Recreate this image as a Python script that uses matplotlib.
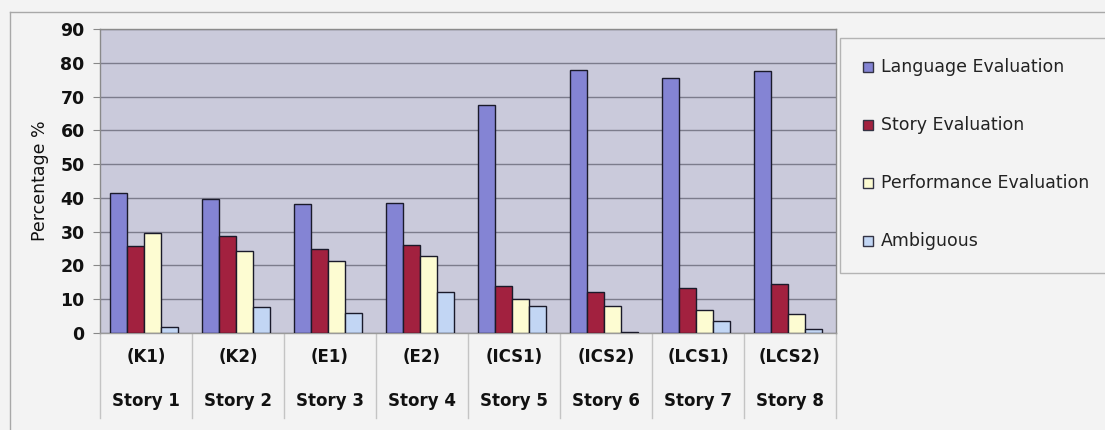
import matplotlib
matplotlib.use("Agg")
import matplotlib.pyplot as plt
import numpy as np
from matplotlib.lines import Line2D
from matplotlib.patches import Rectangle
from matplotlib.transforms import blended_transform_factory

# evaluation breakdown per story (percent of utterances)
codes = ["(K1)", "(K2)", "(E1)", "(E2)", "(ICS1)", "(ICS2)", "(LCS1)", "(LCS2)"]
stories = ["Story 1", "Story 2", "Story 3", "Story 4",
           "Story 5", "Story 6", "Story 7", "Story 8"]
series = ["Language Evaluation", "Story Evaluation",
          "Performance Evaluation", "Ambiguous"]
language = [41.4, 39.6, 38.2, 38.6, 67.5, 77.9, 75.6, 77.6]
story = [25.8, 28.8, 24.8, 26.1, 14.0, 12.1, 13.3, 14.6]
performance = [29.6, 24.4, 21.2, 22.9, 10.2, 7.9, 6.9, 5.6]
ambiguous = [1.8, 7.7, 5.9, 12.1, 8.1, 0.2, 3.5, 1.2]
colors = ["#8484d4", "#a2213f", "#fdfcd2", "#c2d6f4"]

W, H = 1105, 430
fig = plt.figure(figsize=(W / 100, H / 100), dpi=100, facecolor="#f3f3f3")
ax = fig.add_axes([100 / W, 1 - 333 / H, 736 / W, 304 / H])
ax.set_facecolor("#cacadb")

x = np.arange(len(codes))
bw = 0.185
for k, (vals, c) in enumerate(zip([language, story, performance, ambiguous], colors)):
    ax.bar(x + (k - 1.5) * bw - 0.02, vals, width=bw, color=c,
           edgecolor="#1a1a2a", linewidth=1.0, zorder=3)

ax.set_xlim(-0.5, len(codes) - 0.5)
ax.set_ylim(0, 90)
ax.set_yticks(range(0, 91, 10))
ax.set_yticklabels([str(v) for v in range(0, 91, 10)], fontsize=12.5,
                   fontweight="bold", color="#111111")
ax.tick_params(axis="y", length=5, color="#888888", pad=6)
ax.set_xticks([])
ax.grid(axis="y", color="#7c7c8c", linewidth=1.0, zorder=1)
for s in ax.spines.values():
    s.set_color("#8a8a8a")
    s.set_linewidth(1.0)
ax.spines["bottom"].set_color("#9a9a9a")
ax.set_ylabel("Percentage %", fontsize=12.5, color="#111111", labelpad=8)

# category table beneath the bars
tr = blended_transform_factory(ax.transData, ax.transAxes)
for b in np.arange(len(codes) + 1) - 0.5:
    ax.add_line(Line2D([b, b], [0, -0.28], transform=tr, color="#c4c4c4",
                       linewidth=1.0, clip_on=False))
for i, (c, s) in enumerate(zip(codes, stories)):
    ax.text(i, -0.08, c, transform=tr, ha="center", va="center",
            fontsize=12, fontweight="bold", color="#111111")
    ax.text(i, -0.225, s, transform=tr, ha="center", va="center",
            fontsize=12, fontweight="bold", color="#111111")

# outer chart frame (top and left edges)
fig.add_artist(Line2D([10 / W, 10 / W], [0, 1 - 12 / H], color="#a8a8a8", linewidth=1.0))
fig.add_artist(Line2D([10 / W, 1], [1 - 12 / H, 1 - 12 / H], color="#a8a8a8", linewidth=1.0))

# legend box with entries
fig.add_artist(Rectangle((840 / W, 1 - 273 / H), (W - 838) / W, 235 / H,
                         facecolor="#f3f3f3", edgecolor="#b4b4b4", linewidth=1.0))
for k, (name, c) in enumerate(zip(series, colors)):
    yc = 1 - (67 + 58 * k) / H
    fig.add_artist(Rectangle((863 / W, yc - 5 / H), 10 / W, 10 / H,
                             facecolor=c, edgecolor="#333344", linewidth=1.0))
    fig.text(881 / W, yc, name, ha="left", va="center", fontsize=12.5,
             color="#222222")

fig.savefig("out.png", dpi=100, facecolor=fig.get_facecolor())
